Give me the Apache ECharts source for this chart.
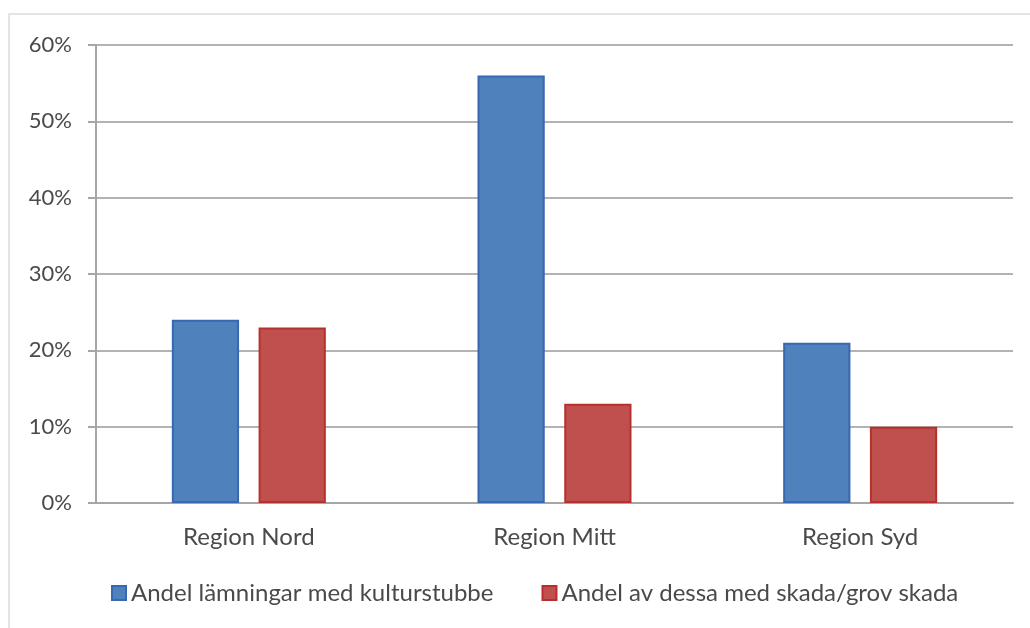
<!DOCTYPE html>
<html>
<head>
<meta charset="utf-8">
<script src="https://cdn.jsdelivr.net/npm/echarts@6/dist/echarts.min.js"></script>
<style>
  html, body { margin: 0; padding: 0; background: #fff; }
  #main { width: 1030px; height: 628px; }
</style>
</head>
<body>
<div id="main"></div>
<script>
// kategorier och värden (andel i procent)
var regions = ['Region Nord', 'Region Mitt', 'Region Syd'];
var kulturstubbe = [24, 56, 21];
var skada = [23, 13, 10];
var seriesNames = ['Andel lämningar med kulturstubbe', 'Andel av dessa med skada/grov skada'];

var myChart = echarts.init(document.getElementById('main'));

var fontFam = 'Lato, "Open Sans", sans-serif';

var option = {
    animation: false,
    backgroundColor: '#fff',
    graphic: [{
        type: 'rect',
        shape: { x: 9, y: 14, width: 1040, height: 640 },
        style: { fill: 'none', stroke: '#e4e4e4', lineWidth: 2 },
        silent: true
    }],
    grid: { left: 96, right: 17, top: 45, bottom: 125 },
    legend: {
        bottom: 18,
        left: 106,
        itemWidth: 14,
        itemHeight: 14,
        itemGap: 48,
        icon: 'rect',
        textStyle: { fontFamily: fontFam, fontSize: 24, color: '#4a4a4a' },
        data: seriesNames
    },
    xAxis: {
        type: 'category',
        data: regions,
        axisLine: { lineStyle: { color: '#a6a6a6', width: 2 } },
        axisTick: { show: false },
        axisLabel: { fontFamily: fontFam, fontSize: 24, color: '#4a4a4a', margin: 22 }
    },
    yAxis: {
        type: 'value',
        min: 0,
        max: 60,
        interval: 10,
        axisLine: { show: true, lineStyle: { color: '#a6a6a6', width: 2 } },
        axisTick: { show: true, length: 8, lineStyle: { color: '#a6a6a6', width: 2 } },
        splitLine: { lineStyle: { color: '#b3b3b3', width: 2 } },
        axisLabel: {
            fontFamily: fontFam, fontSize: 22, color: '#4a4a4a', margin: 24,
            formatter: '{value}%'
        }
    },
    series: [{
        name: seriesNames[0],
        type: 'bar',
        data: kulturstubbe,
        barWidth: '22%',
        barGap: '29%',
        itemStyle: { color: '#4F81BD', borderColor: '#3868b0', borderWidth: 2 }
    }, {
        name: seriesNames[1],
        type: 'bar',
        data: skada,
        barWidth: '22%',
        itemStyle: { color: '#C0504D', borderColor: '#b8302c', borderWidth: 2 }
    }]
};

myChart.setOption(option);
</script>
</body>
</html>
